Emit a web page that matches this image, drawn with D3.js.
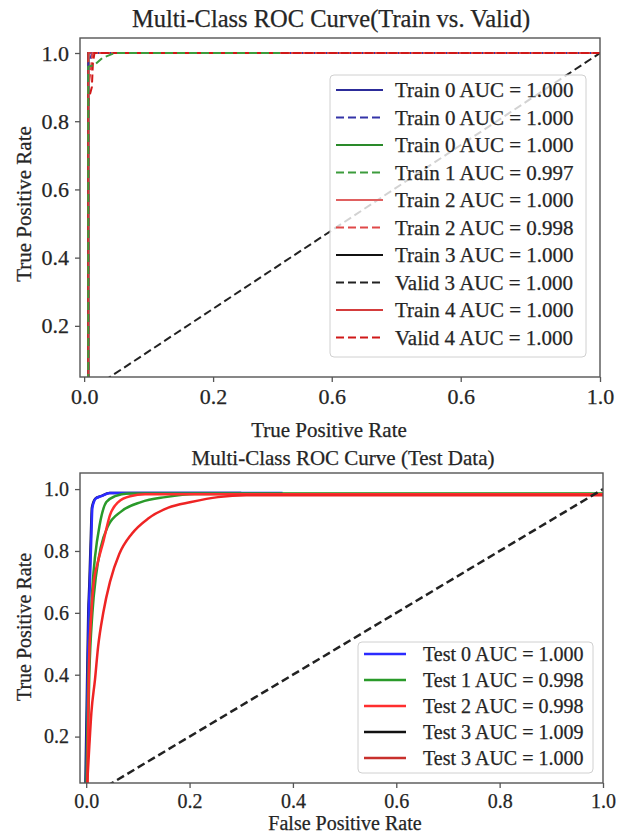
<!DOCTYPE html>
<html>
<head>
<meta charset="utf-8">
<script src="https://cdn.jsdelivr.net/npm/d3@7"></script>
<style>
  body { margin: 0; background: #fff; }
  svg { display: block; }
  text { font-family: "Liberation Serif", "DejaVu Serif", serif; fill: #252525; stroke: #252525; stroke-width: 0.25px; }
</style>
</head>
<body>
<svg id="chart" width="626" height="834"></svg>
<script>
// ---- data: train vs valid ----
const trainLabels = [
    "Train 0 AUC = 1.000", "Train 0 AUC = 1.000", "Train 0 AUC = 1.000", "Train 1 AUC = 0.997",
    "Train 2 AUC = 1.000", "Train 2 AUC = 0.998", "Train 3 AUC = 1.000", "Valid 3 AUC = 1.000",
    "Train 4 AUC = 1.000", "Valid 4 AUC = 1.000"
];
const trainXTicks = [0, 0.25, 0.48, 0.73, 1.0];
const trainXTickLabels = ["0.0", "0.2", "0.6", "0.6", "1.0"];
const yTicks = [0.2, 0.4, 0.6, 0.8, 1.0];

// [fpr, tpr] points
const train0 = [[0.008, 0], [0.008, 1], [1, 1]];
const valid0 = [[0.008, 0], [0.008, 0.97], [0.012, 0.98], [0.015, 1], [1, 1]];
const train0b = [[0.008, 0], [0.008, 1], [1, 1]];
const train1 = [[0.008, 0], [0.008, 0.96], [0.02, 0.965], [0.035, 0.985], [0.059, 1], [0.38, 1]];
const train2 = [[0.008, 0], [0.008, 1], [1, 1]];
const valid2 = [[0.008, 0], [0.008, 0.9], [0.013, 0.95], [0.016, 1], [1, 1]];
const train3 = [[0.008, 0], [0.008, 1], [1, 1]];
const valid3 = [[0, 0], [1, 1]];
const train4 = [[0.008, 0], [0.008, 1], [1, 1]];
const valid4 = [[0.008, 0], [0.008, 0.86], [0.015, 0.9], [0.017, 0.97], [0.02, 1], [1, 1]];

// ---- data: test ----
const testLabels = [
    "Test 0 AUC = 1.000", "Test 1 AUC = 0.998", "Test 2 AUC = 0.998",
    "Test 3 AUC = 1.009", "Test 3 AUC = 1.000"
];
const testXTicks = [0, 0.2, 0.4, 0.6, 0.8, 1.0];

const test0 = [[0, 0], [0.002, 0.3], [0.005, 0.6], [0.007, 0.69], [0.01, 0.85], [0.012, 0.94],
    [0.019, 0.97], [0.029, 0.977], [0.046, 0.987], [0.38, 0.987]];
const test1 = [[0, 0], [0.004, 0.38], [0.008, 0.55], [0.013, 0.706], [0.017, 0.78], [0.026, 0.884],
    [0.039, 0.958], [0.056, 0.977], [0.081, 0.986], [1, 0.986]];
const test1b = [[0.001, 0], [0.006, 0.4], [0.012, 0.6], [0.019, 0.72], [0.028, 0.81], [0.042, 0.88],
    [0.068, 0.928], [0.106, 0.958], [0.153, 0.974], [0.21, 0.984], [1, 0.984]];
const test2 = [[0.002, 0], [0.005, 0.4], [0.01, 0.6], [0.014, 0.69], [0.022, 0.76], [0.033, 0.829],
    [0.046, 0.916], [0.062, 0.958], [0.085, 0.977], [0.114, 0.983], [1, 0.983]];
const test3 = [[-0.002, 0], [0.001, 0.3], [0.004, 0.6], [0.006, 0.69], [0.009, 0.85], [0.011, 0.94],
    [0.018, 0.97], [0.028, 0.977], [0.045, 0.987], [0.3, 0.987]];
const test3b = [[0.002, 0.05], [0.006, 0.168], [0.01, 0.277], [0.017, 0.384], [0.023, 0.49],
    [0.033, 0.6], [0.046, 0.7], [0.064, 0.79], [0.088, 0.855], [0.12, 0.905], [0.159, 0.94],
    [0.203, 0.958], [0.255, 0.974], [0.31, 0.98], [1, 0.98]];

const svg = d3.select("#chart");

/**
 * Draws one ROC panel
 */
function drawRoc(cfg) {
    const g = svg.append("g");
    const x = d3.scaleLinear().domain(cfg.xDomain).range([cfg.left, cfg.right]);
    const y = d3.scaleLinear().domain(cfg.yDomain).range([cfg.bottom, cfg.top]);

    g.append("clipPath").attr("id", cfg.id + "-clip")
        .append("rect")
        .attr("x", cfg.left).attr("y", cfg.top)
        .attr("width", cfg.right - cfg.left).attr("height", cfg.bottom - cfg.top);

    // axes
    const xAxis = d3.axisBottom(x).tickValues(cfg.xTicks).tickSize(5).tickPadding(6)
        .tickFormat((d, i) => cfg.xTickLabels[i]);
    const yAxis = d3.axisLeft(y).tickValues(yTicks).tickSize(5).tickPadding(6)
        .tickFormat(d3.format(".1f"));

    const xg = g.append("g").attr("transform", `translate(0,${cfg.bottom})`).call(xAxis);
    const yg = g.append("g").attr("transform", `translate(${cfg.left},0)`).call(yAxis);
    [xg, yg].forEach(a => {
        a.select(".domain").remove();
        a.selectAll("line").attr("stroke", "#555").attr("stroke-width", 1.3);
        a.selectAll("text").style("font-size", cfg.tickSize + "px").attr("fill", "#252525")
            .style("font-family", "Liberation Serif");
    });

    // curves (smooth ones have strictly increasing fpr)
    const straight = d3.line().x(d => x(d[0])).y(d => y(d[1]));
    const smooth = d3.line().x(d => x(d[0])).y(d => y(d[1])).curve(d3.curveMonotoneX);
    const curves = g.append("g").attr("clip-path", `url(#${cfg.id}-clip)`);
    cfg.curves.forEach(c => {
        curves.append("path")
            .attr("d", (cfg.smooth && !c.dash ? smooth : straight)(c.data))
            .attr("fill", "none")
            .attr("stroke", c.color)
            .attr("stroke-width", cfg.lineWidth)
            .attr("stroke-dasharray", c.dash ? "8,4" : null);
    });

    // frame
    g.append("rect")
        .attr("x", cfg.left).attr("y", cfg.top)
        .attr("width", cfg.right - cfg.left).attr("height", cfg.bottom - cfg.top)
        .attr("fill", "none").attr("stroke", "#555").attr("stroke-width", 1.4);

    // legend
    const lg = cfg.legend;
    g.append("rect")
        .attr("x", lg.x).attr("y", lg.y).attr("width", lg.w).attr("height", lg.h)
        .attr("rx", 4)
        .attr("fill", "#fff").attr("fill-opacity", 0.8)
        .attr("stroke", "#d0d0d0");
    lg.items.forEach((it, i) => {
        const cy = lg.firstRow + i * lg.rowStep;
        g.append("line")
            .attr("x1", lg.x + 6).attr("x2", lg.x + 6 + lg.sample)
            .attr("y1", cy).attr("y2", cy)
            .attr("stroke", it.color).attr("stroke-width", cfg.lineWidth)
            .attr("stroke-dasharray", it.dash ? "8,4" : null);
        g.append("text")
            .attr("x", lg.textX).attr("y", cy)
            .attr("dy", "0.35em")
            .style("font-size", lg.fontSize + "px")
            .text(it.label);
    });

    // titles
    g.append("text").attr("x", cfg.titleX).attr("y", cfg.titleY)
        .attr("text-anchor", "middle").style("font-size", cfg.titleSize + "px")
        .text(cfg.title);
    g.append("text").attr("x", cfg.xLabelX).attr("y", cfg.xLabelY)
        .attr("text-anchor", "middle").style("font-size", cfg.labelSize + "px")
        .text(cfg.xLabel);
    g.append("text")
        .attr("transform", `translate(${cfg.yLabelX},${cfg.yLabelY}) rotate(-90)`)
        .attr("text-anchor", "middle").style("font-size", cfg.labelSize + "px")
        .text(cfg.yLabel);
}

const trainColors = ["#2c2c9a", "#3434a8", "#2a8a2a", "#3c9c3c", "#e06060",
    "#e04848", "#111111", "#222222", "#d43c3c", "#d01818"];
const trainDash = [false, true, false, true, false, true, false, true, false, true];
const trainSeries = [train0, valid0, train0b, train1, train2, valid2, train3, valid3, train4, valid4];
// solids first, dashed drawn on top
const trainOrder = [0, 2, 4, 6, 8, 7, 1, 5, 9, 3];

drawRoc({
    id: "train",
    left: 80, right: 600, top: 38, bottom: 377,
    xDomain: [-0.008, 1], yDomain: [0.05, 1.044],
    xTicks: trainXTicks, xTickLabels: trainXTickLabels,
    tickSize: 22, lineWidth: 2, smooth: false,
    curves: trainOrder.map(i => ({ data: trainSeries[i], color: trainColors[i], dash: trainDash[i] })),
    legend: {
        x: 330, y: 75, w: 256, h: 282, firstRow: 90, rowStep: 27.5, sample: 47, textX: 395, fontSize: 21,
        items: trainLabels.map((l, i) => ({ label: l, color: trainColors[i], dash: trainDash[i] }))
    },
    title: "Multi-Class ROC Curve(Train vs. Valid)", titleX: 331, titleY: 27, titleSize: 24.5,
    xLabel: "True Positive Rate", xLabelX: 329, xLabelY: 437,
    yLabel: "True Positive Rate", yLabelX: 31, yLabelY: 204, labelSize: 21
});

const testColors = ["#2b2bff", "#2a9a2a", "#ff2e2e", "#111111", "#c8302c"];
const testSeries = [test3, test0, test1b, test1, test2, test3b];
const testSeriesColors = ["#1a1a5a", "#2b2bff", "#2a9a2a", "#2a9a2a", "#ff2e2e", "#ee2424"];

drawRoc({
    id: "test",
    left: 80, right: 603, top: 473, bottom: 783,
    xDomain: [-0.012, 1], yDomain: [0.05, 1.052],
    xTicks: testXTicks, xTickLabels: testXTicks.map(d3.format(".1f")),
    tickSize: 20, lineWidth: 2.5, smooth: true,
    curves: testSeries.map((s, i) => ({ data: s, color: testSeriesColors[i], dash: false }))
        .concat([{ data: valid3, color: "#222", dash: true }]),
    legend: {
        x: 358, y: 642, w: 235, h: 131, firstRow: 654, rowStep: 26, sample: 42, textX: 423, fontSize: 20,
        items: testLabels.map((l, i) => ({ label: l, color: testColors[i], dash: false }))
    },
    title: "Multi-Class ROC Curve (Test Data)", titleX: 343, titleY: 465, titleSize: 21,
    xLabel: "False Positive Rate", xLabelX: 345, xLabelY: 830,
    yLabel: "True Positive Rate", yLabelX: 31, yLabelY: 627, labelSize: 20
});
</script>
</body>
</html>
